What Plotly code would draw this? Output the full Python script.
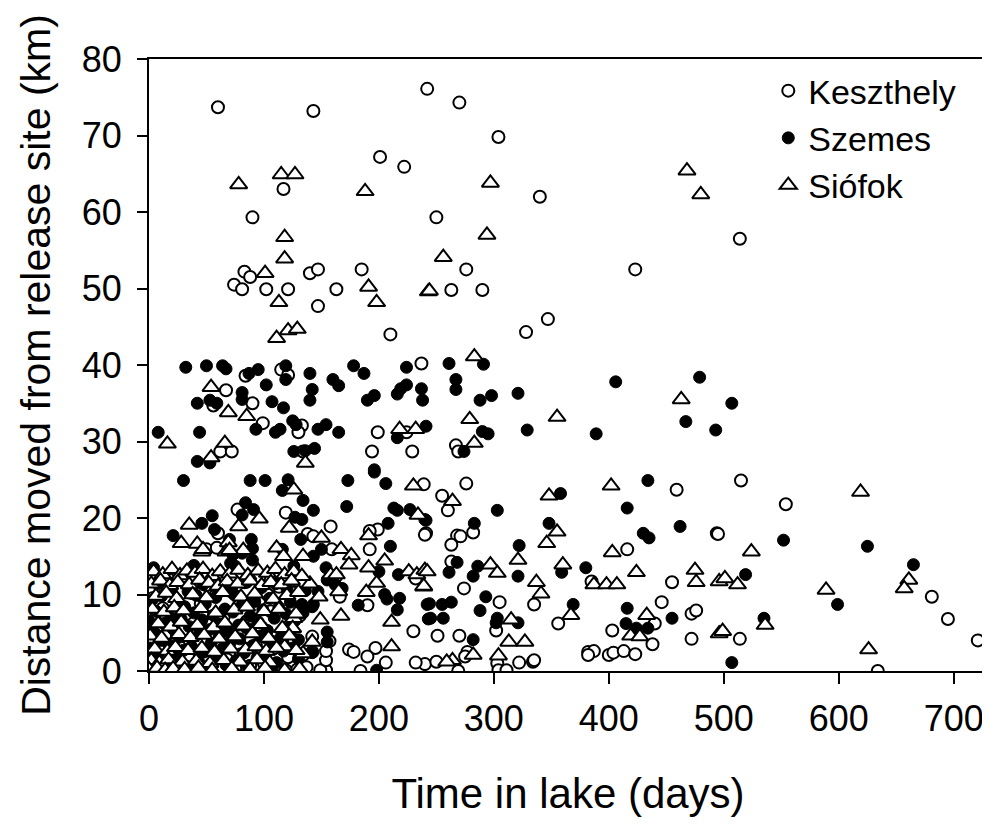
import plotly.graph_objects as go

# ---------------- data (days, km) ----------------
kesz_days = [60,143,242,201,222,117,90,270,304,340,250,514,
             83,88,74,81,102,121,140,147,163,147,185,210,276,263,290,423,347,328,
             237,84,115,121,67,56,90,99,133,130,199,224,62,72,134,194,229,267,269,
             239,276,255,260,282,241,268,271,263,263,274,305,302,251,270,277,275,240,250,269,303,304,311,322,334,335,335,356,385,382,387,382,400,404,413,423,403,416,459,494,455,446,472,476,440,438,472,515,554,495,514,681,695,721,634,
             77,119,158,199,192,192,240,232,190,230,197,190,206,174,178,184,232,154,149,154,154,157,123,138,143,60,50,59,159,163,166,142,142,118,119,119,
             1,3,5,2,4,8,10,12,14,16,18,20,22,25,27,30,32,35,37,40,42,45,47,50,53,55,58,60,63,65,68,70,72,75,78,80,83,85,88,90,93,96,98,100,103,106,108,111,113,116,118,121,124,126,129,131,134,137]
kesz_km = [73.7,73.2,76.1,67.2,65.9,63.0,59.3,74.3,69.8,62.0,59.3,56.5,
           52.2,51.5,50.5,49.9,49.9,49.9,52.0,52.5,49.9,47.7,52.5,44.0,52.5,49.8,49.8,52.5,46.0,44.3,
           40.2,38.6,39.4,38.7,36.7,34.7,35.0,32.4,32.1,31.2,31.2,31.2,28.7,28.7,28.7,28.7,28.7,29.5,28.7,
           24.4,24.5,22.9,21.0,18.1,18.0,17.7,17.6,16.5,14.3,10.8,9.0,5.3,4.6,4.6,2.5,1.9,0.9,1.2,0.0,1.0,0.1,0.1,1.1,1.2,1.4,8.7,6.2,11.7,2.5,2.6,2.1,2.1,2.4,2.6,2.2,5.3,15.9,23.7,18.0,11.6,9.0,7.5,7.9,6.2,3.5,4.2,24.9,21.8,17.9,4.2,9.7,6.8,4.0,0.0,
           21.1,20.7,18.9,18.5,18.3,15.9,17.8,12.1,8.6,5.2,3.0,1.9,1.1,2.8,2.5,0.0,1.1,0.1,0.1,1.4,2.6,3.9,0.6,17.9,17.6,18.0,15.9,16.1,15.9,12.4,9.7,4.5,2.5,4.5,3.4,0.1,
           12.1,9.5,6.8,3.8,1.2,0.3,10.8,8.2,4.6,2.0,11.9,6.3,0.8,9.0,3.1,12.4,7.4,1.6,10.2,5.2,0.2,8.8,2.6,11.2,6.0,0.9,9.9,3.7,12.0,7.1,1.5,10.5,4.8,0.3,8.5,2.2,11.6,6.5,0.7,9.3,3.4,12.3,5.7,1.0,10.0,7.8,2.9,0.4,11.0,5.0,8.9,1.8,10.7,4.1,0.2,7.2,2.1,0.5]

szem_days = [32,50,64,67,87,95,119,119,140,160,165,178,187,224,102,81,81,142,140,42,53,59,107,117,190,196,216,219,224,237,238,93,125,128,110,114,147,154,165,8,44,216,241,42,53,126,136,144,196,
             261,291,267,267,288,298,321,406,479,507,467,493,290,295,329,389,274,
             30,88,101,121,116,173,196,206,134,143,172,84,91,81,127,133,55,46,57,21,213,216,227,240,208,210,70,89,90,132,116,143,150,81,73,217,200,205,207,218,216,182,242,243,142,155,198,107,
             241,303,283,322,321,286,282,261,268,244,255,263,245,256,293,288,303,302,321,282,358,348,359,380,369,434,416,462,430,435,416,455,415,424,434,552,625,665,519,599,535,507,
             4,39,71,75,90,126,128,154,168,162,155,147,143,142,134,130,155,102,
             0,1,2,3,5,6,8,10,11,13,15,17,19,21,23,24,26,28,30,31,33,35,37,39,41,43,44,46,48,49,51,52,54,56,58,59,61,62,64,66,67,69,71,73,74,76,78,79,81,83,85,86,88,90,92,94,95,97,99,101,103,105,107,109,111,113,115,117,119,121,123,125,127,130,133,136,132,120,110,98,85,72,60,47,34,20,8]
szem_km = [39.7,39.9,39.9,39.5,38.9,39.4,39.9,38.1,38.9,38.1,37.3,39.9,38.9,39.7,37.4,36.4,35.5,36.8,35.4,35.0,35.4,35.0,35.2,34.4,35.4,36.0,36.2,36.9,37.4,36.9,35.4,31.6,32.7,32.2,31.2,31.6,31.6,32.2,31.2,31.2,31.2,30.5,32.0,27.4,27.2,28.7,28.8,29.1,26.3,
           40.2,40.1,38.1,36.8,35.4,36.0,36.3,37.8,38.4,35.0,32.6,31.5,31.3,31.0,31.5,31.0,28.7,
           24.9,24.9,24.9,25.0,23.6,24.9,26.0,24.5,22.3,21.0,21.5,22.0,21.1,20.4,20.1,19.8,20.3,19.3,18.5,17.7,21.3,21.0,21.1,19.8,19.3,16.3,17.2,17.2,16.0,17.2,15.9,15.0,15.9,15.4,15.2,12.6,13.0,10.0,9.4,9.5,8.0,8.6,8.7,6.8,2.4,5.1,0.1,0.0,
           19.7,21.0,19.3,16.4,12.4,13.7,12.4,12.9,14.2,8.8,8.7,9.0,6.9,6.9,9.7,7.9,6.9,6.3,6.3,4.1,23.2,19.3,12.9,13.5,8.7,24.9,21.3,18.9,18.0,17.4,8.2,6.9,6.2,5.6,5.6,17.1,16.3,13.9,12.6,8.7,6.9,1.1,
           13.5,13.8,14.1,13.7,14.5,13.7,12.6,13.5,10.8,11.3,11.9,10.4,8.7,8.4,7.6,4.1,3.8,4.3,
           6.5,3.0,9.2,1.0,5.0,7.8,2.2,4.0,9.8,6.2,0.9,3.5,7.0,5.5,1.8,9.4,4.4,6.8,2.7,8.4,0.6,5.8,3.2,7.6,9.9,1.3,4.9,6.7,2.5,8.8,0.3,5.4,3.6,7.3,9.6,1.9,4.7,6.1,2.9,8.1,0.8,5.1,3.8,7.7,10.0,1.4,6.0,4.2,8.6,2.4,5.6,0.5,7.2,3.3,9.1,1.7,6.4,4.6,8.0,2.0,5.3,9.5,3.9,6.9,1.1,8.3,4.4,2.6,7.5,5.9,9.0,3.0,6.6,1.6,8.7,10.5,11.2,10.8,11.4,10.9,11.6,11.0,10.6,11.3,10.4,10.9,11.4]

sio_days = [78,115,127,188,118,297,294,468,480,118,101,113,191,198,243,111,121,129,256,244,283,463,54,69,85,16,66,54,136,218,232,279,355,283,
            126,230,96,35,78,122,28,69,150,42,46,47,111,117,167,176,174,134,82,67,70,191,234,191,205,226,233,240,239,198,189,211,211,167,149,165,148,133,140,158,163,126,125,142,118,134,
            264,321,297,303,242,239,315,337,341,313,327,282,264,259,304,348,355,346,360,367,387,398,407,402,403,424,475,476,496,433,419,427,496,619,524,501,512,661,657,589,536,499,626,
            4,12,20,27,33,40,47,55,62,70,78,86,95,103,110,118,126,133,
            2,10,18,25,35,44,52,60,68,77,88,98,106,115,124,
            6,15,24,38,50,64,80,92,108,120,130,
            3,13,22,30,45,58,74,85,100,113,128,
            8,19,28,42,56,66,82,97,116,
            1,11,26,36,48,61,75,90,104,122,
            5,16,23,34,46,57,71,84,93,102,111,128,
            2,9,17,29,41,53,65,79,94,105,
            0,7,14,21,31,43,55,72,88,101,118,131]
sio_km = [63.6,64.9,64.9,62.7,56.7,63.8,57.0,65.4,62.3,53.9,52.0,48.2,50.2,48.2,49.6,43.5,44.5,44.7,54.1,49.7,41.1,35.5,37.1,33.8,33.3,29.7,29.8,27.9,27.2,31.6,31.6,32.9,33.2,29.8,
          23.7,24.2,19.9,19.1,18.9,18.7,16.7,16.8,17.4,16.6,15.6,15.9,16.1,15.0,15.9,15.1,13.9,15.0,15.8,15.6,15.8,17.7,20.4,13.5,14.4,13.0,12.6,13.2,11.0,11.5,10.3,6.4,3.2,7.2,6.7,10.4,9.7,11.5,11.4,12.6,12.6,6.9,5.6,3.8,3.2,2.3,
          22.2,14.5,13.9,12.8,13.0,11.1,6.7,11.6,10.1,3.8,3.8,2.1,1.4,1.2,2.0,22.9,18.2,16.7,13.9,7.3,11.3,11.3,11.3,24.2,15.5,12.9,13.2,11.6,11.7,7.3,4.6,4.5,4.9,23.4,15.6,12.1,11.3,11.9,10.8,10.6,6.0,5.2,2.8,
          13.0,12.6,13.3,12.5,13.1,12.8,13.3,12.4,13.0,12.7,13.2,12.5,13.1,12.8,13.3,12.6,13.0,12.4,
          11.4,11.8,11.2,11.6,11.3,11.9,11.5,11.1,11.7,11.4,11.8,11.2,11.6,11.3,11.8,
          9.8,10.2,9.5,10.0,9.6,10.3,9.7,10.1,9.4,9.9,10.3,
          8.1,7.7,8.3,7.9,8.2,7.6,8.0,8.4,7.8,8.1,7.5,
          6.2,5.8,6.4,6.0,5.7,6.3,5.9,6.1,5.6,
          4.6,4.3,4.8,4.4,4.7,4.2,4.5,4.9,4.3,4.6,
          2.9,2.6,3.1,2.7,3.0,2.5,2.9,2.8,3.2,2.6,3.0,2.7,
          1.4,1.1,1.5,1.2,1.3,1.0,1.4,1.2,1.5,1.1,
          0.2,0.4,0.1,0.3,0.2,0.4,0.1,0.3,0.2,0.4,0.1,0.3]

x_ticks = [0, 100, 200, 300, 400, 500, 600, 700]
y_ticks = [0, 10, 20, 30, 40, 50, 60, 70, 80]

FONT = "Arial, Liberation Sans, sans-serif"

fig = go.Figure()
fig.add_trace(go.Scatter(x=kesz_days, y=kesz_km, mode="markers", name="Keszthely",
                         marker=dict(symbol="circle", size=12, color="white",
                                     line=dict(color="black", width=2))))
fig.add_trace(go.Scatter(x=szem_days, y=szem_km, mode="markers", name="Szemes",
                         marker=dict(symbol="circle", size=12, color="black",
                                     line=dict(color="black", width=1))))
fig.add_trace(go.Scatter(x=sio_days, y=sio_km, mode="markers", name="Siófok",
                         marker=dict(symbol="triangle-up", size=15, color="white",
                                     line=dict(color="black", width=2))))

fig.update_layout(
    width=990, height=825,
    margin=dict(l=141, r=11, t=51, b=162),
    paper_bgcolor="white", plot_bgcolor="white",
    font=dict(family=FONT, color="black", size=36),
    showlegend=True,
    legend=dict(x=0.739, y=0.995, xanchor="left", yanchor="top",
                font=dict(family=FONT, size=34, color="black"),
                bgcolor="rgba(0,0,0,0)", borderwidth=0, itemsizing="trace",
                tracegroupgap=0),
    xaxis=dict(range=[0, 729], tickvals=x_ticks, ticktext=[str(v) for v in x_ticks],
               automargin=False,
               showgrid=False, zeroline=False, showline=True, linecolor="black",
               linewidth=2, mirror=True, ticks="outside", ticklen=11, tickwidth=2,
               tickcolor="black", tickfont=dict(size=36, family=FONT),
               ticklabelstandoff=4,
               title=dict(text="Time in lake (days)", font=dict(size=42, family=FONT),
                          standoff=40)),
    yaxis=dict(range=[0, 80], tickvals=y_ticks, ticktext=[str(v) for v in y_ticks],
               automargin=False,
               showgrid=False, zeroline=False, showline=True, linecolor="black",
               linewidth=2, mirror=True, ticks="outside", ticklen=10, tickwidth=2,
               tickcolor="black", tickfont=dict(size=36, family=FONT),
               ticklabelstandoff=8,
               title=dict(text="Distance moved from release site (km)",
                          font=dict(size=41, family=FONT), standoff=18)),
)

fig.write_html("out.html")
